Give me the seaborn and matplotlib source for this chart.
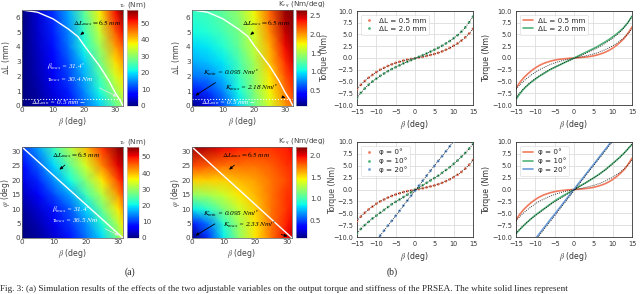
import numpy as np
import pandas as pd
import seaborn as sns
import matplotlib.pyplot as plt

# ---------------- data: heatmaps ----------------
beta_top = [0, 5, 10, 15, 20, 25, 30, 32.5]
dl_rows = [0, 1, 2, 3, 4, 5, 6.5]
tau_dl = [
    [0, 1.5, 4, 8, 13, 19, 27, 31],
    [0, 2, 5, 9, 15, 22, 31, 35],
    [0, 2.5, 6, 11, 17, 25, 35, 39],
    [0, 3, 7, 12, 19, 28, 39, 43],
    [0, 3.5, 8, 14, 22, 31, 43, 47],
    [0, 4, 9, 15, 24, 34, 47, 52],
    [0, 4.5, 10, 17, 27, 38, 52, 58],
]
k_dl = [
    [0.1, 0.3, 0.6, 0.95, 1.3, 1.65, 2.0, 2.15],
    [0.45, 0.55, 0.75, 1.05, 1.4, 1.75, 2.1, 2.25],
    [0.7, 0.75, 0.9, 1.15, 1.45, 1.8, 2.2, 2.35],
    [0.85, 0.9, 1.0, 1.2, 1.5, 1.9, 2.3, 2.45],
    [0.95, 1.0, 1.1, 1.3, 1.6, 1.95, 2.4, 2.55],
    [1.05, 1.1, 1.2, 1.35, 1.65, 2.05, 2.5, 2.6],
    [1.15, 1.2, 1.3, 1.45, 1.75, 2.15, 2.6, 2.65],
]
beta_bot = [0, 5, 10, 15, 20, 25, 30, 31.5]
phi_rows = [0, 5, 10, 15, 20, 25, 31.5]
tau_phi = [
    [0, 1.5, 4, 8, 13, 19, 28, 33],
    [0.5, 2.5, 5.5, 10, 15, 22, 32, 37],
    [1.5, 4, 8, 12, 19, 27, 37, 41],
    [3, 6, 11, 16, 24, 32, 42, 46],
    [5, 9, 15, 21, 29, 37, 47, 50],
    [7, 12, 19, 26, 34, 43, 51, 53],
    [10, 16, 24, 32, 40, 48, 55, 56],
]
k_phi = [
    [0.1, 0.45, 0.85, 1.2, 1.5, 1.75, 2.0, 2.1],
    [0.4, 0.6, 0.95, 1.25, 1.5, 1.75, 1.95, 2.0],
    [0.85, 0.95, 1.15, 1.35, 1.55, 1.75, 1.9, 1.95],
    [1.2, 1.25, 1.35, 1.5, 1.6, 1.75, 1.9, 1.9],
    [1.55, 1.55, 1.55, 1.6, 1.65, 1.75, 1.85, 1.9],
    [1.85, 1.8, 1.75, 1.75, 1.75, 1.8, 1.9, 1.9],
    [2.15, 2.1, 2.0, 1.95, 1.9, 1.9, 1.95, 2.0],
]
# white boundary curve (ΔL_max) in top heatmaps
curve_beta = [0, 5, 10, 15, 18, 20, 25, 28, 30, 31.5, 32.5]
curve_dl = [6.5, 6.35, 5.9, 5.2, 4.7, 4.1, 2.7, 1.7, 0.9, 0.4, 0]
diag_beta = [0, 31.5]
diag_phi = [31.5, 0]

# ---------------- data: torque curves ----------------
beta = list(range(-15, 16))
sim_dl05 = [-6.6, -5.7, -4.9, -4.2, -3.6, -3.0, -2.5, -2.1, -1.7, -1.35, -1.05, -0.8, -0.55, -0.35, -0.2,
            -0.05, 0.1, 0.25, 0.45, 0.65, 0.85, 1.1, 1.4, 1.75, 2.15, 2.6, 3.1, 3.7, 4.4, 5.2, 6.2]
sim_dl20 = [-8.5, -7.4, -6.5, -5.7, -5.0, -4.4, -3.8, -3.3, -2.8, -2.35, -1.95, -1.55, -1.15, -0.8, -0.45,
            -0.1, 0.25, 0.6, 0.95, 1.35, 1.75, 2.15, 2.6, 3.1, 3.6, 4.2, 4.85, 5.6, 6.5, 7.6, 8.8]
ana_dl05 = [-6.4, -5.2, -4.2, -3.4, -2.7, -2.1, -1.6, -1.2, -0.9, -0.65, -0.45, -0.3, -0.2, -0.12, -0.05,
            0, 0.05, 0.12, 0.2, 0.3, 0.45, 0.65, 0.9, 1.2, 1.6, 2.1, 2.7, 3.4, 4.2, 5.3, 6.6]
ana_dl20 = [-8.8, -7.6, -6.6, -5.8, -5.1, -4.5, -3.9, -3.4, -2.9, -2.4, -2.0, -1.6, -1.2, -0.8, -0.4,
            0, 0.4, 0.8, 1.2, 1.6, 2.0, 2.4, 2.9, 3.4, 3.9, 4.5, 5.1, 5.8, 6.6, 7.6, 8.9]
sim_phi0 = sim_dl05
sim_phi10 = [-9.2, -8.3, -7.5, -6.8, -6.1, -5.5, -4.9, -4.3, -3.7, -3.1, -2.6, -2.1, -1.6, -1.1, -0.6,
             -0.1, 0.4, 0.9, 1.4, 1.9, 2.4, 2.9, 3.5, 4.1, 4.7, 5.4, 6.1, 6.9, 7.7, 8.6, 9.6]
beta_steep = list(range(-10, 11))
sim_phi20 = [-10.7, -9.7, -8.65, -7.6, -6.6, -5.55, -4.5, -3.4, -2.35, -1.3, -0.25,
             0.8, 1.85, 2.9, 3.95, 4.95, 6.0, 7.0, 8.05, 9.1, 10.15]
ana_phi0 = ana_dl05
ana_phi10 = [-9.3, -8.4, -7.6, -6.8, -6.1, -5.4, -4.8, -4.2, -3.6, -3.0, -2.4, -1.9, -1.4, -0.95, -0.5,
             0, 0.5, 0.95, 1.4, 1.9, 2.4, 2.95, 3.5, 4.1, 4.8, 5.5, 6.2, 6.9, 7.7, 8.6, 9.5]
ana_phi20 = [-10.4, -9.35, -8.3, -7.25, -6.2, -5.2, -4.15, -3.1, -2.05, -1.0, 0.05,
             1.1, 2.1, 3.15, 4.2, 5.2, 6.25, 7.3, 8.35, 9.4, 10.45]

labels_dl = ["ΔL = 0.5 mm", "ΔL = 2.0 mm"]
labels_phi = ["φ = 0°", "φ = 10°", "φ = 20°"]
c_red, c_green, c_blue = "#f07a5e", "#52b47a", "#6b9bd6"

# ---------------- figure ----------------
sns.set_theme(style="whitegrid")
plt.rcParams["font.family"] = ["DejaVu Sans"]
plt.rcParams["mathtext.fontset"] = "stix"
W, H = 640, 294
fig = plt.figure(figsize=(W / 100, H / 100), dpi=100)


def pax(x0, y0, x1, y1):
    return fig.add_axes([x0 / W, 1 - y1 / H, (x1 - x0) / W, (y1 - y0) / H])


fs = 5.2
ann = dict(fontsize=5.2, style="italic", family="Liberation Serif")
arr_k = dict(arrowstyle="-|>,head_length=0.35,head_width=0.15", color="black", lw=0.6)
arr_w = dict(arrowstyle="-|>,head_length=0.35,head_width=0.15", color="#e6e6e6", lw=0.5)


def heat(rect, cbrect, xs, ys, Z, vmax, vmin, cticks, clabel, ylabel, yticks):
    ax = pax(*rect)
    cax = pax(*cbrect)
    m = ax.pcolormesh(xs, ys, np.array(Z), shading="gouraud", cmap="jet", vmin=vmin, vmax=vmax)
    ax.set_xlim(xs[0], xs[-1])
    ax.set_ylim(ys[0], ys[-1])
    ax.grid(False)
    for s in ax.spines.values():
        s.set_color("#555555")
        s.set_linewidth(0.5)
    ax.set_xticks([0, 10, 20, 30])
    ax.set_yticks(yticks)
    ax.tick_params(labelsize=fs, length=0, pad=1, colors="#444444")
    ax.set_xlabel(r"$\beta$ (deg)", fontsize=fs + 0.5, labelpad=1, color="#444444")
    ax.set_ylabel(ylabel, fontsize=fs + 0.3, color="#444444")
    ax.yaxis.set_label_coords(-0.1, 0.5)
    cb = fig.colorbar(m, cax=cax)
    cb.set_ticks(cticks)
    cb.ax.tick_params(labelsize=fs, length=0, pad=2, colors="#444444")
    cb.outline.set_linewidth(0.4)
    cax.set_title(clabel, fontsize=fs, pad=2, color="#444444")
    return ax


# (a) top-left
ax = heat((22, 10, 123, 106), (127, 10, 138, 106), beta_top, dl_rows, tau_dl, 58, 0,
          [0, 10, 20, 30, 40, 50], r"$\tau_o$ (Nm)", r"$\Delta$L (mm)", range(0, 7))
ax.plot(curve_beta, curve_dl, color="white", lw=1.0)
ax.axhline(0.5, color="white", lw=0.8, ls=":")
ax.annotate(r"$\Delta L_{max} = 6.5\ mm$", xy=(18, 4.7), xytext=(16.3, 5.5), color="black", **ann,
            arrowprops=arr_k)
ax.annotate(r"$\beta_{max}$ = 31.4$^\circ$" + "\n" + r"$\tau_{max}$ = 30.4 $Nm$", xy=(31.3, 0.55),
            xytext=(8, 1.7), color="white", **ann, arrowprops=arr_w)
ax.text(3, 0.12, r"$\Delta L_{min}$ = 0.5 $mm$ $-$", color="white", **ann)

# (a) top-middle
ax = heat((192, 10, 293, 106), (296, 10, 307, 106), beta_top, dl_rows, k_dl, 2.65, 0.095,
          [0.5, 1, 1.5, 2, 2.5], r"K$_{eq}$ (Nm/deg)", r"$\Delta$L (mm)", range(0, 7))
ax.plot(curve_beta, curve_dl, color="white", lw=1.0)
ax.axhline(0.5, color="white", lw=0.8, ls=":")
ax.annotate(r"$\Delta L_{max} = 6.5\ mm$", xy=(18, 4.7), xytext=(16.1, 5.5), color="black", **ann,
            arrowprops=arr_k)
ax.annotate(r"$K_{min}$ = 0.095 $Nm/^\circ$", xy=(0.3, 0.6), xytext=(3.5, 2.1), color="black", **ann,
            arrowprops=arr_k)
ax.annotate(r"$K_{max}$ = 2.18 $Nm/^\circ$", xy=(31, 0.5), xytext=(10.6, 1.05), color="black", **ann,
            arrowprops=arr_k)
ax.text(3, 0.12, r"$\Delta L_{min}$ = 0.5 $mm$ $-$", color="white", **ann)

# (a) bottom-left
ax = heat((22, 147, 123, 238), (127, 147, 139, 238), beta_bot, phi_rows, tau_phi, 56, 0,
          [0, 10, 20, 30, 40, 50], r"$\tau_o$ (Nm)", r"$\varphi$ (deg)", [0, 5, 10, 15, 20, 25, 30])
ax.plot(diag_beta, diag_phi, color="white", lw=1.0)
ax.annotate(r"$\Delta L_{max} = 6.5\ mm$", xy=(11, 23), xytext=(9.5, 28), color="black", **ann,
            arrowprops=arr_k)
ax.annotate(r"$\beta_{max}$ = 31.4$^\circ$" + "\n" + r"$\tau_{max}$ = 36.5 $Nm$", xy=(31, 0.5),
            xytext=(9.5, 5.5), color="white", **ann, arrowprops=arr_w)

# (a) bottom-middle
ax = heat((192, 147, 292, 238), (296, 147, 307, 238), beta_bot, phi_rows, k_phi, 2.2, 0.095,
          [0.5, 1, 1.5, 2], r"K$_{eq}$ (Nm/deg)", r"$\varphi$ (deg)", [0, 5, 10, 15, 20, 25, 30])
ax.plot(diag_beta, diag_phi, color="white", lw=1.0)
ax.annotate(r"$\Delta L_{max} = 6.5\ mm$", xy=(11, 23), xytext=(9.4, 28), color="black", **ann,
            arrowprops=arr_k)
ax.annotate(r"$K_{min}$ = 0.095 $Nm/^\circ$", xy=(0.3, 0.3), xytext=(3.5, 7.5), color="black", **ann,
            arrowprops=arr_k)
ax.annotate(r"$K_{max}$ = 2.33 $Nm/^\circ$", xy=(31, 0.3), xytext=(9.8, 3.6), color="black", **ann,
            arrowprops=arr_k)


# ---------------- (b) torque plots ----------------
def torque_ax(rect, ylabel):
    ax = pax(*rect)
    ax.set_xlim(-15, 15)
    ax.set_ylim(-10, 10)
    ax.set_xticks(range(-15, 16, 5))
    ax.set_yticks(np.arange(-10, 10.1, 2.5))
    ax.grid(True, color="#dddddd", lw=0.6)
    for s in ax.spines.values():
        s.set_color("#333333")
        s.set_linewidth(0.6)
    ax.tick_params(labelsize=fs - 0.5, length=1.5, pad=1.5, colors="#333333")
    ax.set_xlabel(r"$\beta$ (deg)", fontsize=fs + 0.5, labelpad=2, color="#333333")
    if ylabel:
        ax.set_ylabel("Torque (Nm)", fontsize=fs + 0.5, labelpad=1, color="#333333")
    else:
        ax.set_ylabel("")
    return ax


def long_df(xs, ys_list, labels):
    frames = [pd.DataFrame({"beta": x, "torque": y, "case": l}) for x, y, l in zip(xs, ys_list, labels)]
    return pd.concat(frames, ignore_index=True)


def leg(ax):
    lg = ax.legend(loc="upper left", fontsize=fs, frameon=True, handlelength=1.5,
                   borderpad=0.4, labelspacing=0.3, handletextpad=0.6)
    lg.get_frame().set_linewidth(0.4)


# top-left (b): simulation scatter + fitted dotted
ax = torque_ax((357, 11, 473, 105), False)
d = long_df([beta, beta], [sim_dl05, sim_dl20], labels_dl)
sns.scatterplot(data=d, x="beta", y="torque", hue="case", palette=[c_red, c_green], s=4,
                linewidth=0, ax=ax, zorder=3)
for y in (sim_dl05, sim_dl20):
    sns.lineplot(x=beta, y=y, color="black", lw=0.6, ls=(0, (1, 1.5)), ax=ax, zorder=4)
leg(ax)
ax.set_ylabel("")

# top-right (b): analytic lines + dotted
ax = torque_ax((516, 11, 632, 105), True)
d = long_df([beta, beta], [ana_dl05, ana_dl20], labels_dl)
sns.lineplot(data=d, x="beta", y="torque", hue="case", palette=[c_red, c_green], lw=1.2, ax=ax)
for y in (sim_dl05, sim_dl20):
    sns.lineplot(x=beta, y=y, color="black", lw=0.6, ls=(0, (1, 1.5)), ax=ax, zorder=4)
leg(ax)

# bottom-left (b)
ax = torque_ax((357, 142, 473, 237), False)
d = long_df([beta, beta, beta_steep], [sim_phi0, sim_phi10, sim_phi20], labels_phi)
sns.scatterplot(data=d, x="beta", y="torque", hue="case", palette=[c_red, c_green, c_blue], s=4,
                linewidth=0, ax=ax, zorder=3)
for x, y in ((beta, sim_phi0), (beta, sim_phi10), (beta_steep, sim_phi20)):
    sns.lineplot(x=x, y=y, color="black", lw=0.6, ls=(0, (1, 1.5)), ax=ax, zorder=4)
leg(ax)
ax.set_ylabel("")
ax.set_xlim(-15, 15)
ax.set_ylim(-10, 10)

# bottom-right (b)
ax = torque_ax((516, 142, 632, 237), True)
d = long_df([beta, beta, beta_steep], [ana_phi0, ana_phi10, ana_phi20], labels_phi)
sns.lineplot(data=d, x="beta", y="torque", hue="case", palette=[c_red, c_green, c_blue], lw=1.2, ax=ax)
for x, y in ((beta, sim_phi0), (beta, sim_phi10), (beta_steep, sim_phi20)):
    sns.lineplot(x=x, y=y, color="black", lw=0.6, ls=(0, (1, 1.5)), ax=ax, zorder=4)
leg(ax)
ax.set_xlim(-15, 15)
ax.set_ylim(-10, 10)

# left-column torque labels (sit beside the colorbars in the original)
fig.text(325 / W, 1 - 58 / H, "Torque (Nm)", rotation=90, fontsize=fs + 0.5, color="#444444",
         ha="center", va="center")
fig.text(333 / W, 1 - 190 / H, "Torque (Nm)", rotation=90, fontsize=fs + 0.5, color="#444444",
         ha="center", va="center")

# panel labels and caption
fig.text(130 / W, 1 - 272 / H, "(a)", fontsize=7, family="Liberation Serif", ha="center", va="center")
fig.text(392 / W, 1 - 272 / H, "(b)", fontsize=7, family="Liberation Serif", ha="center", va="center")
fig.text(0 / W, 1 - 289 / H,
         "Fig. 3: (a) Simulation results of the effects of the two adjustable variables on the output torque "
         "and stiffness of the PRSEA. The white solid lines represent",
         fontsize=6.6, family="Liberation Serif", ha="left", va="center")

fig.savefig("out.png", dpi=100)
